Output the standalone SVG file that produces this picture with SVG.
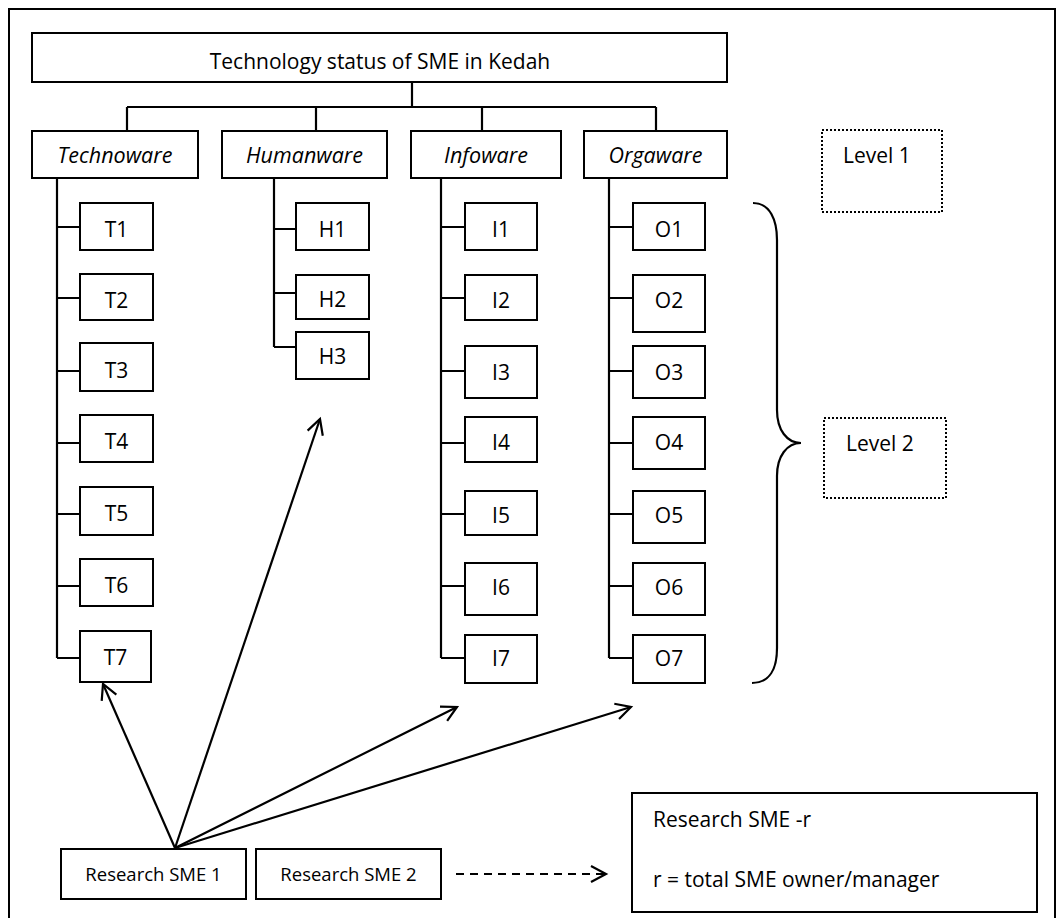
<svg xmlns="http://www.w3.org/2000/svg" width="1057" height="918" viewBox="0 0 1057 918">
  <style>
    .box { fill: #fff; stroke: #000; stroke-width: 2; }
    .dot { fill: none; stroke: #000; stroke-width: 2; stroke-dasharray: 2 2; }
    .ln { fill: none; stroke: #000; stroke-width: 2.2; }
    .t { font-family: "Open Sans", "Noto Sans", sans-serif; font-size: 21px; fill: #000; }
    .c { text-anchor: middle; }
    .i { font-style: italic; font-size: 21.5px; }
  </style>
  <defs>
    <marker id="arr" markerUnits="userSpaceOnUse" markerWidth="22" markerHeight="22" viewBox="-18 -11 22 22" refX="0" refY="0" orient="auto">
      <path d="M-15,-8 L0,0 L-15,8" fill="none" stroke="#000" stroke-width="2.2"/>
    </marker>
  </defs>

  <!-- outer frame -->
  <rect x="9" y="9" width="1046" height="916" fill="none" stroke="#000" stroke-width="2"/>

  <!-- connectors -->
  <g id="connectors">
    <!-- title to level-1 -->
    <path class="ln" d="M412,82 V107 M127,107 H656 M127,107 V131 M316,107 V131 M482,107 V131 M656,107 V131"/>
    <!-- Technoware branch -->
    <path class="ln" d="M57,178 V658 M57,227 H80 M57,298 H80 M57,371 H80 M57,443 H80 M57,514 H80 M57,586 H80 M57,658 H80"/>
    <!-- Humanware branch -->
    <path class="ln" d="M274,178 V347 M274,229 H296 M274,293 H296 M274,347 H296"/>
    <!-- Infoware branch -->
    <path class="ln" d="M441,178 V658 M441,227 H465 M441,298 H465 M441,371 H465 M441,443 H465 M441,514 H465 M441,586 H465 M441,658 H465"/>
    <!-- Orgaware branch -->
    <path class="ln" d="M609,178 V658 M609,227 H633 M609,298 H633 M609,371 H633 M609,443 H633 M609,514 H633 M609,586 H633 M609,658 H633"/>
    <!-- level-2 brace -->
    <path class="ln" d="M753,203 C770,203 777,220 777,240 L777,410 C777,430 787,443 801,443 C787,443 777,456 777,476 L777,648 C777,668 770,683 752,683"/>
    <!-- arrows from Research SME 1 -->
    <line class="ln" x1="175" y1="848" x2="103" y2="684" marker-end="url(#arr)"/>
    <line class="ln" x1="175" y1="848" x2="320" y2="419" marker-end="url(#arr)"/>
    <line class="ln" x1="175" y1="848" x2="457" y2="707" marker-end="url(#arr)"/>
    <line class="ln" x1="175" y1="848" x2="631" y2="707" marker-end="url(#arr)"/>
    <!-- dashed arrow to summary box -->
    <line class="ln" x1="456" y1="874" x2="606" y2="874" stroke-dasharray="8 6" marker-end="url(#arr)"/>
  </g>

  <!-- title -->
  <g id="title">
    <rect class="box" x="32" y="33" width="695" height="49"/>
    <text class="t c" x="380" y="69">Technology status of SME in Kedah</text>
  </g>

  <!-- level-1 nodes -->
  <g id="technoware"><rect class="box" x="32" y="131" width="166" height="47"/><text class="t c i" x="115" y="163">Technoware</text></g>
  <g id="humanware"><rect class="box" x="222" y="131" width="165" height="47"/><text class="t c i" x="304.5" y="163">Humanware</text></g>
  <g id="infoware"><rect class="box" x="411" y="131" width="150" height="47"/><text class="t c i" x="486" y="163">Infoware</text></g>
  <g id="orgaware"><rect class="box" x="584" y="131" width="143" height="47"/><text class="t c i" x="655.5" y="163">Orgaware</text></g>

  <!-- level labels -->
  <g id="level1"><rect class="dot" x="822" y="130" width="120" height="82"/><text class="t" x="843" y="163">Level 1</text></g>
  <g id="level2"><rect class="dot" x="824" y="418" width="122" height="80"/><text class="t" x="846" y="451">Level 2</text></g>

  <!-- Technoware items -->
  <g id="T1"><rect class="box" x="80" y="203" width="73" height="47"/><text class="t c" x="116.5" y="237">T1</text></g>
  <g id="T2"><rect class="box" x="80" y="274" width="73" height="46"/><text class="t c" x="116.5" y="308">T2</text></g>
  <g id="T3"><rect class="box" x="80" y="343" width="73" height="48"/><text class="t c" x="116.5" y="378">T3</text></g>
  <g id="T4"><rect class="box" x="80" y="415" width="73" height="47"/><text class="t c" x="116.5" y="449">T4</text></g>
  <g id="T5"><rect class="box" x="80" y="487" width="73" height="48"/><text class="t c" x="116.5" y="521">T5</text></g>
  <g id="T6"><rect class="box" x="80" y="559" width="73" height="47"/><text class="t c" x="116.5" y="593">T6</text></g>
  <g id="T7"><rect class="box" x="80" y="631" width="71" height="51"/><text class="t c" x="115.5" y="665">T7</text></g>

  <!-- Humanware items -->
  <g id="H1"><rect class="box" x="296" y="203" width="73" height="47"/><text class="t c" x="332.5" y="237">H1</text></g>
  <g id="H2"><rect class="box" x="296" y="275" width="73" height="44"/><text class="t c" x="332.5" y="307">H2</text></g>
  <g id="H3"><rect class="box" x="296" y="332" width="73" height="47"/><text class="t c" x="332.5" y="364">H3</text></g>

  <!-- Infoware items -->
  <g id="I1"><rect class="box" x="465" y="203" width="72" height="47"/><text class="t c" x="501" y="237">I1</text></g>
  <g id="I2"><rect class="box" x="465" y="275" width="72" height="45"/><text class="t c" x="501" y="308">I2</text></g>
  <g id="I3"><rect class="box" x="465" y="346" width="72" height="52"/><text class="t c" x="501" y="380">I3</text></g>
  <g id="I4"><rect class="box" x="465" y="417" width="72" height="45"/><text class="t c" x="501" y="450">I4</text></g>
  <g id="I5"><rect class="box" x="465" y="491" width="72" height="44"/><text class="t c" x="501" y="523">I5</text></g>
  <g id="I6"><rect class="box" x="465" y="563" width="72" height="52"/><text class="t c" x="501" y="595">I6</text></g>
  <g id="I7"><rect class="box" x="465" y="635" width="72" height="48"/><text class="t c" x="501" y="666">I7</text></g>

  <!-- Orgaware items -->
  <g id="O1"><rect class="box" x="633" y="203" width="72" height="47"/><text class="t c" x="669" y="237">O1</text></g>
  <g id="O2"><rect class="box" x="633" y="275" width="72" height="57"/><text class="t c" x="669" y="308">O2</text></g>
  <g id="O3"><rect class="box" x="633" y="346" width="72" height="52"/><text class="t c" x="669" y="380">O3</text></g>
  <g id="O4"><rect class="box" x="633" y="417" width="72" height="52"/><text class="t c" x="669" y="450">O4</text></g>
  <g id="O5"><rect class="box" x="633" y="491" width="72" height="52"/><text class="t c" x="669" y="523">O5</text></g>
  <g id="O6"><rect class="box" x="633" y="563" width="72" height="52"/><text class="t c" x="669" y="595">O6</text></g>
  <g id="O7"><rect class="box" x="633" y="635" width="72" height="48"/><text class="t c" x="669" y="666">O7</text></g>

  <!-- research SMEs -->
  <g id="sme1"><rect class="box" x="61" y="849" width="185" height="50"/><text class="t c" style="font-size:18.5px" x="153.5" y="881">Research SME 1</text></g>
  <g id="sme2"><rect class="box" x="256" y="849" width="185" height="50"/><text class="t c" style="font-size:18.5px" x="348.5" y="881">Research SME 2</text></g>

  <!-- summary box -->
  <g id="smer">
    <rect class="box" x="632" y="793" width="405" height="119"/>
    <text class="t" x="653" y="827">Research SME -r</text>
    <text class="t" x="653" y="887">r = total SME owner/manager</text>
  </g>
</svg>
